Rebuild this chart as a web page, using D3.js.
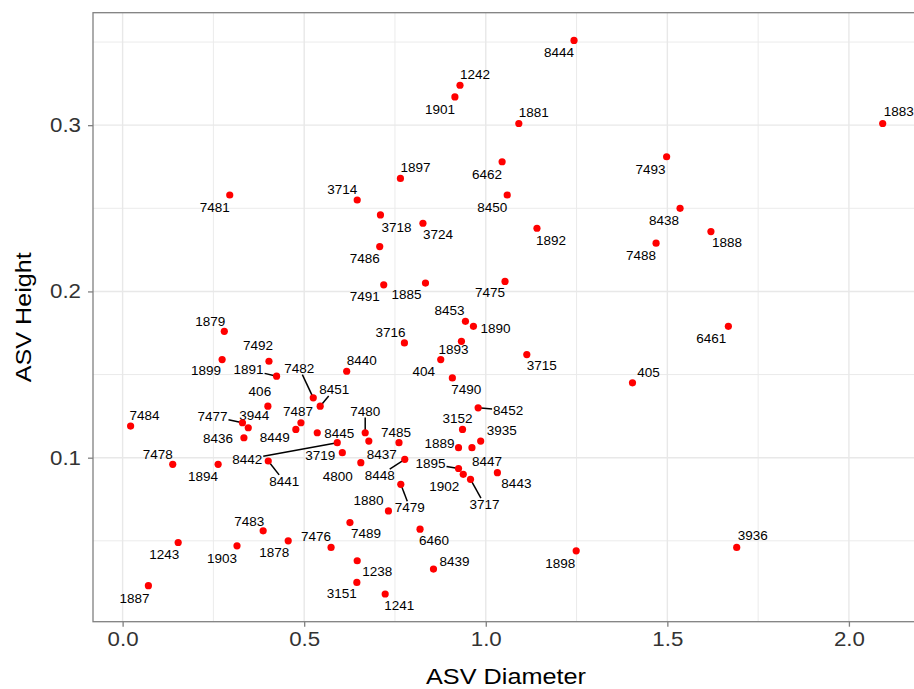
<!DOCTYPE html>
<html>
<head>
<meta charset="utf-8">
<script src="https://cdn.jsdelivr.net/npm/d3@7"></script>
<style>
  body { margin: 0; background: #fff; }
  text { font-family: "Liberation Sans", Arial, sans-serif; }
</style>
</head>
<body>
<script>
// ASV ids, diameters and heights
var ids = ["8444","1242","1901","1881","1883","1897","6462","7493","3714","7481",
  "8450","8438","3718","3724","1892","1888","7488","7486","7491","1885",
  "7475","8453","1890","1879","3716","6461","7492","1893","1899","1891",
  "8440","3715","7482","404","405","406","8451","7490","8452","7484",
  "7477","3944","7487","7480","3152","8436","8449","8445","7485","3935",
  "7478","8442","3719","8437","1889","1894","8441","4800","8448","1895",
  "8447","1902","8443","3717","1880","7479","7483","7489","6460","1243",
  "1903","1878","7476","3936","1898","1238","8439","3151","1887","1241"];

var diameter = [1.243,0.929,0.915,1.091,2.093,0.765,1.045,1.498,0.646,0.295,
  1.059,1.535,0.710,0.827,1.141,1.620,1.469,0.708,0.719,0.834,
  1.053,0.944,0.966,0.280,0.776,1.668,0.403,0.933,0.274,0.424,
  0.617,1.113,0.525,0.876,1.404,0.400,0.544,0.908,0.979,0.022,
  0.330,0.346,0.491,0.668,0.936,0.334,0.477,0.536,0.761,0.986,
  0.138,0.591,0.605,0.678,0.925,0.263,0.401,0.656,0.777,0.925,
  0.962,0.938,1.032,0.958,0.732,0.766,0.387,0.626,0.819,0.153,
  0.315,0.456,0.574,1.691,1.249,0.646,0.856,0.645,0.071,0.723];

var height = [0.351,0.324,0.317,0.301,0.301,0.268,0.278,0.281,0.255,0.258,
  0.258,0.250,0.246,0.241,0.238,0.236,0.229,0.227,0.204,0.205,
  0.206,0.182,0.179,0.176,0.169,0.179,0.158,0.170,0.159,0.149,
  0.152,0.162,0.136,0.159,0.145,0.131,0.131,0.148,0.130,0.119,
  0.121,0.118,0.121,0.115,0.117,0.112,0.117,0.115,0.109,0.110,
  0.096,0.109,0.103,0.110,0.106,0.096,0.098,0.097,0.099,0.0935,
  0.106,0.090,0.091,0.087,0.068,0.084,0.056,0.061,0.057,0.049,
  0.047,0.050,0.046,0.046,0.044,0.038,0.033,0.025,0.023,0.018];

var xTicks = [0, 0.5, 1, 1.5, 2];
var yTicks = [0.1, 0.2, 0.3];

// label placement (pixel nudges, like ggrepel gave them)
var labelNudge = {
  "8444":[-15,12],"1242":[15,-11],"1901":[-15,12],"1881":[15,-11],"1883":[16,-12],
  "1897":[15,-11],"6462":[-15,12],"7493":[-16,12],"3714":[-15,-11],"7481":[-15,12],
  "8450":[-15,12],"8438":[-16,12],"3718":[16,12],"3724":[15,11],"1892":[14,12],
  "1888":[16,11],"7488":[-15,12],"7486":[-15,12],"7491":[-19,11],"1885":[-19,11],
  "7475":[-15,11],"8453":[-16,-11],"1890":[22,2],"1879":[-14,-10],"3716":[-14,-11],
  "6461":[-17,12],"7492":[-11,-16],"1893":[-8,8],"1899":[-16,11],"1891":[-28,-7],
  "8440":[15,-11],"3715":[15,11],"7482":[-14,-30],"404":[-17,12],"405":[16,-11],
  "406":[-8,-15],"8451":[14,-17],"7490":[14,11],"8452":[30,2],"7484":[14,-11],
  "7477":[-30,-7],"3944":[6,-13],"7487":[-3,-12],"7480":[0,-22],"3152":[-5,-11],
  "8436":[-26,0],"8449":[-21,8],"8445":[22,0],"7485":[-3,-11],"3935":[21,-11],
  "7478":[-15,-10],"8442":[-90,16],"3719":[-22,2],"8437":[13,13],"1889":[-19,-5],
  "1894":[-15,12],"8441":[16,20],"4800":[-23,13],"8448":[-25,16],"1895":[-28,-5],
  "8447":[15,13],"1902":[-19,12],"8443":[19,11],"3717":[14,25],"1880":[-20,-11],
  "7479":[9,23],"7483":[-14,-10],"7489":[16,11],"6460":[14,11],"1243":[-14,12],
  "1903":[-15,12],"1878":[-14,11],"7476":[-15,-11],"3936":[16,-12],"1898":[-16,12],
  "1238":[20,10],"8439":[21,-8],"3151":[-15,11],"1887":[-14,12],"1241":[14,11]
};
var withSegment = ["1891","7482","8451","7477","7480","8442","8441","8452","1895","3717","8448","7479"];

var data = ids.map(function(d, i) { return { id: d, x: diameter[i], y: height[i] }; });

var W = 914, H = 689;
var margin = { top: 12.7, left: 93, bottom: 67.3 };
var plotW = 827.3, plotH = H - margin.top - margin.bottom;

function padded(ext) {
  var r = ext[1] - ext[0];
  return [ext[0] - r * 0.05, ext[1] + r * 0.05];
}

var x = d3.scaleLinear().domain(padded(d3.extent(diameter))).range([0, plotW]);
var y = d3.scaleLinear().domain(padded(d3.extent(height))).range([plotH, 0]);

var svg = d3.select("body").append("svg")
    .attr("width", W)
    .attr("height", H);

var g = svg.append("g").attr("transform", "translate(" + margin.left + "," + margin.top + ")");

// minor grid
var xMinor = d3.range(-0.25, 2.3, 0.5).filter(function(v) { return v > x.domain()[0] && v < x.domain()[1]; });
var yMinor = [0.05, 0.15, 0.25, 0.35];

g.selectAll(".xminor").data(xMinor).enter().append("line")
    .attr("x1", d => x(d)).attr("x2", d => x(d))
    .attr("y1", 0).attr("y2", plotH)
    .attr("stroke", "#ebebeb").attr("stroke-width", 1);
g.selectAll(".yminor").data(yMinor).enter().append("line")
    .attr("x1", 0).attr("x2", plotW)
    .attr("y1", d => y(d)).attr("y2", d => y(d))
    .attr("stroke", "#ebebeb").attr("stroke-width", 1);

// major grid
g.selectAll(".xmajor").data(xTicks).enter().append("line")
    .attr("x1", d => x(d)).attr("x2", d => x(d))
    .attr("y1", 0).attr("y2", plotH)
    .attr("stroke", "#e8e8e8").attr("stroke-width", 1.4);
g.selectAll(".ymajor").data(yTicks).enter().append("line")
    .attr("x1", 0).attr("x2", plotW)
    .attr("y1", d => y(d)).attr("y2", d => y(d))
    .attr("stroke", "#e8e8e8").attr("stroke-width", 1.4);

// panel border
g.append("rect")
    .attr("x", 0).attr("y", 0)
    .attr("width", plotW).attr("height", plotH)
    .attr("fill", "none")
    .attr("stroke", "#808080").attr("stroke-width", 1.3);

// axes
var xAxis = g.append("g")
    .attr("transform", "translate(0," + plotH + ")")
    .call(d3.axisBottom(x).tickValues(xTicks).tickFormat(d3.format(".1f")).tickSizeInner(5).tickSizeOuter(0).tickPadding(5));
var yAxis = g.append("g")
    .call(d3.axisLeft(y).tickValues(yTicks).tickFormat(d3.format(".1f")).tickSizeInner(5).tickSizeOuter(0).tickPadding(7));

[xAxis, yAxis].forEach(function(a) {
  a.select(".domain").remove();
  a.selectAll(".tick line").attr("stroke", "#808080").attr("stroke-width", 1.3);
  a.selectAll(".tick text")
      .attr("fill", "#333")
      .attr("textLength", 31)
      .attr("lengthAdjust", "spacingAndGlyphs")
      .style("font-size", "20px")
      .style("font-family", "'Liberation Sans', Arial, sans-serif");
});

// axis titles
svg.append("text")
    .attr("x", margin.left + 413)
    .attr("y", 684)
    .attr("text-anchor", "middle")
    .attr("textLength", 160)
    .attr("lengthAdjust", "spacingAndGlyphs")
    .style("font-size", "22px")
    .text("ASV Diameter");

svg.append("text")
    .attr("transform", "translate(31," + (margin.top + plotH / 2) + ") rotate(-90)")
    .attr("text-anchor", "middle")
    .attr("textLength", 130)
    .attr("lengthAdjust", "spacingAndGlyphs")
    .style("font-size", "22px")
    .text("ASV Height");

// labels and segments
var lbl = g.append("g");
var seg = g.append("g");

data.forEach(function(d) {
  var px = x(d.x), py = y(d.y);
  var n = labelNudge[d.id] || [12, -10];
  var t = lbl.append("text")
      .attr("x", px + n[0])
      .attr("y", py + n[1])
      .attr("text-anchor", "middle")
      .attr("dy", "0.36em")
      .style("font-size", "13.5px")
      .attr("fill", "#000")
      .text(d.id);
  if (withSegment.indexOf(d.id) >= 0) {
    var b = t.node().getBBox();
    var cx = b.x + b.width / 2, cy = b.y + b.height / 2;
    var hw = b.width / 2 + 1, hh = b.height / 2 - 1;
    var dx = px - cx, dy = py - cy;
    var s = Math.min(Math.abs(dx) > 0 ? hw / Math.abs(dx) : Infinity,
                     Math.abs(dy) > 0 ? hh / Math.abs(dy) : Infinity);
    seg.append("line")
        .attr("x1", px).attr("y1", py)
        .attr("x2", cx + dx * s).attr("y2", cy + dy * s)
        .attr("stroke", "#000").attr("stroke-width", 1.5);
  }
});

// points
g.append("g").selectAll("circle")
    .data(data)
    .enter().append("circle")
    .attr("cx", d => x(d.x))
    .attr("cy", d => y(d.y))
    .attr("r", 3.6)
    .attr("fill", "#ff0000");
</script>
</body>
</html>
